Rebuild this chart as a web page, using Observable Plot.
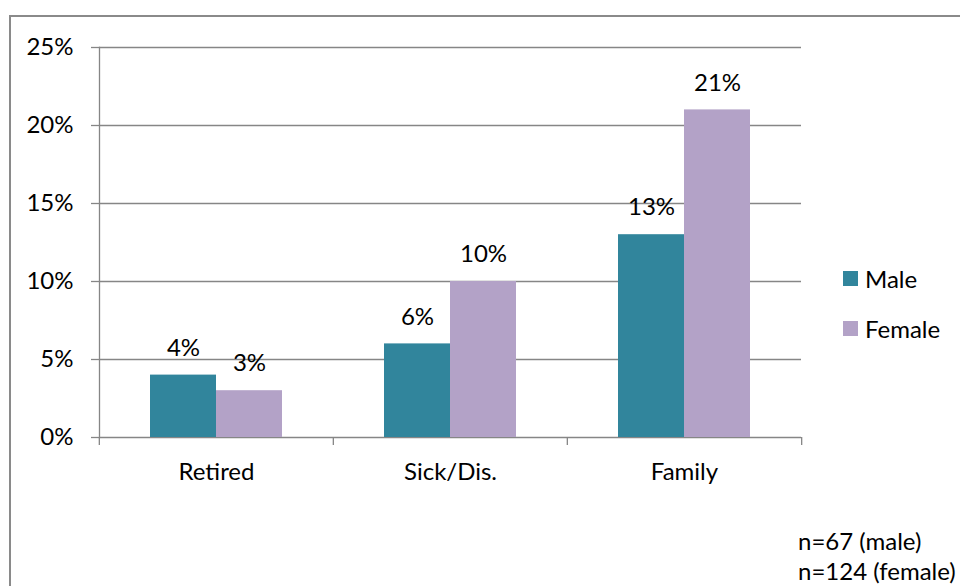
<!DOCTYPE html>
<html>
<head>
<meta charset="utf-8">
<script src="https://cdn.jsdelivr.net/npm/d3@7"></script>
<script src="https://cdn.jsdelivr.net/npm/@observablehq/plot@0.6"></script>
<style>
  html, body { margin: 0; padding: 0; background: #fff; }
  #wrap { position: relative; width: 960px; height: 586px; overflow: hidden; font-family: Lato, "Open Sans", sans-serif; }
  #border { position: absolute; left: 9px; top: 15px; width: 1200px; height: 1200px; border: 2px solid #8a8a8a; box-sizing: border-box; }
  #chart { position: absolute; left: 0; top: 0; }
  .legend { position: absolute; left: 843px; top: 264px; font-size: 24px; color: #000; }
  .legend .item { display: flex; align-items: center; height: 28px; margin-bottom: 22px; }
  .legend .sw { width: 15px; height: 15px; margin-right: 7px; }
  .note { position: absolute; left: 798px; top: 526px; font-size: 24px; line-height: 30px; color: #000; white-space: nowrap; }
</style>
</head>
<body>
<div id="wrap">
  <div id="border"></div>
  <div id="chart"></div>
  <div class="legend" id="legend"></div>
  <div class="note" id="note"></div>
</div>
<script>
const categories = ["Retired", "Sick/Dis.", "Family"];
const series = ["Male", "Female"];
const maleValues = [0.04, 0.06, 0.13];
const femaleValues = [0.03, 0.10, 0.21];
const seriesColors = ["#31859C", "#B3A2C7"];
const yTicks = [0, 0.05, 0.10, 0.15, 0.20, 0.25];
const notes = ["n=67 (male)", "n=124 (female)"];

const data = [];
categories.forEach((c, i) => {
  data.push({category: c, sex: "Male", value: maleValues[i]});
  data.push({category: c, sex: "Female", value: femaleValues[i]});
});

const FONT = 24;
const pct = d3.format(".0%");

const chart = Plot.plot({
  width: 960,
  height: 586,
  marginLeft: 98,
  marginRight: 159,
  marginTop: 47,
  marginBottom: 149,
  style: {fontFamily: "Lato, 'Open Sans', sans-serif", fontSize: FONT + "px", color: "#000", background: "transparent"},
  fx: {domain: categories, padding: 0, label: null},
  x: {domain: series, paddingInner: 0, paddingOuter: 0.76, axis: null},
  y: {domain: [0, 0.25], label: null},
  color: {domain: series, range: seriesColors},
  marks: [
    Plot.ruleY(yTicks, {stroke: "#868686", strokeWidth: 1.3}),
    Plot.frame({anchor: "left", facetAnchor: "left", stroke: "#868686", strokeWidth: 1.3}),
    Plot.axisY({ticks: yTicks, tickFormat: pct, tickSize: 8, tickPadding: 18, stroke: "#868686", strokeWidth: 1.3, fontSize: FONT, fill: "#000", label: null}),
    Plot.axisFx({anchor: "bottom", tickSize: 0, tickPadding: 25, fontSize: FONT, fill: "#000", label: null}),
    Plot.axisFx({anchor: "bottom", tickSize: 8, text: null, dx: -117.17, stroke: "#868686", strokeWidth: 1.3, label: null}),
    Plot.axisFx({anchor: "bottom", ticks: [categories[categories.length - 1]], tickSize: 8, text: null, dx: 117.17, stroke: "#868686", strokeWidth: 1.3, label: null}),
    Plot.barY(data, {fx: "category", x: "sex", y: "value", fill: "sex"}),
    Plot.text(data, {fx: "category", x: "sex", y: "value", text: d => pct(d.value), dy: -27, lineAnchor: "middle", fontSize: FONT, fill: "#000"})
  ]
});
document.getElementById("chart").appendChild(chart);

const legend = document.getElementById("legend");
series.forEach((s, i) => {
  const item = document.createElement("div");
  item.className = "item";
  const sw = document.createElement("div");
  sw.className = "sw";
  sw.style.background = seriesColors[i];
  const t = document.createElement("span");
  t.textContent = s;
  item.appendChild(sw);
  item.appendChild(t);
  legend.appendChild(item);
});
document.getElementById("note").innerHTML = notes.map(n => `<div>${n}</div>`).join("");
</script>
</body>
</html>
